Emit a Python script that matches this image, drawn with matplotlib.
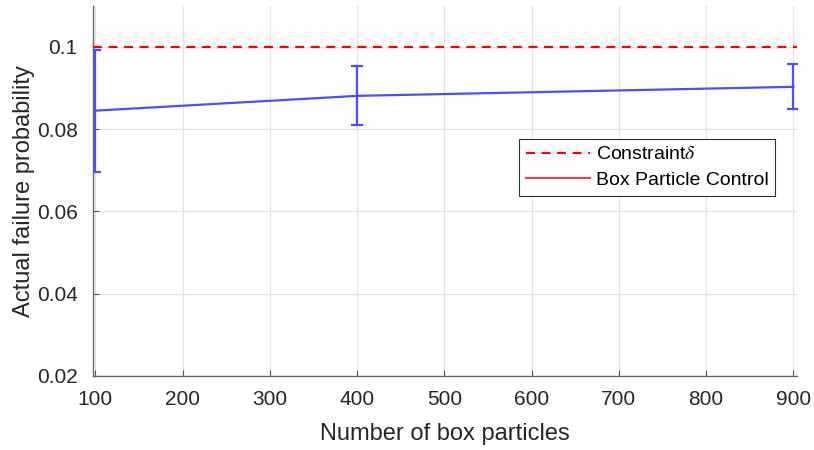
import numpy as np
from matplotlib import pyplot as plt
from matplotlib.lines import Line2D

# data
particles = [100, 400, 900]
mean_fail = [0.0845, 0.0881, 0.0903]
err_low = [0.0696, 0.0810, 0.0850]
err_high = [0.0992, 0.0953, 0.0958]
delta = 0.1

x_ticks = [100, 200, 300, 400, 500, 600, 700, 800, 900]
y_ticks = [0.02, 0.04, 0.06, 0.08, 0.1]
y_tick_labels = ['0.02', '0.04', '0.06', '0.08', '0.1']

plt.rcParams['font.family'] = ['Liberation Sans', 'DejaVu Sans']
plt.rcParams['mathtext.fontset'] = 'stix'

fig = plt.figure(figsize=(8.14, 4.5), dpi=100)
ax = fig.add_axes([0.114, 0.165, 0.865, 0.822])

blue = '#4d4dff'
mean_arr = np.array(mean_fail)
yerr = [mean_arr - np.array(err_low), np.array(err_high) - mean_arr]

ax.axhline(delta, color='#ff0000', linestyle=(0, (4, 3)), linewidth=1.6, zorder=3)
ax.errorbar(particles, mean_fail, yerr=yerr, color=blue, linewidth=1.6,
            elinewidth=1.6, capsize=4.6, capthick=1.6, zorder=4)

ax.set_xlim(97, 904)
ax.set_ylim(0.02, 0.11)
ax.set_xticks(x_ticks)
ax.set_yticks(y_ticks)
ax.set_yticklabels(y_tick_labels)
ax.tick_params(direction='in', length=4, labelsize=15, colors='#262626',
               color='#555555', width=0.8)
ax.tick_params(axis='x', pad=10)
ax.tick_params(axis='y', pad=11)
ax.grid(True, color='#e2e2e2', linewidth=0.9)
ax.set_axisbelow(True)
for side in ['top', 'right']:
    ax.spines[side].set_visible(False)
for side in ['left', 'bottom']:
    ax.spines[side].set_color('#666666')
    ax.spines[side].set_linewidth(1.0)

ax.set_xlabel('Number of box particles', fontsize=17, color='#262626', labelpad=10)
ax.set_ylabel('Actual failure probability', fontsize=17, color='#262626', labelpad=1)

handles = [Line2D([], [], color='#ff0000', linestyle=(0, (4, 3)), linewidth=1.6),
           Line2D([], [], color='#ff3333', linewidth=1.4)]
leg = ax.legend(handles, ['Constraint$\\delta$', 'Box Particle Control'],
                loc='upper left', bbox_to_anchor=(0.605, 0.640), fontsize=14,
                fancybox=False, framealpha=1, edgecolor='#333333',
                handlelength=3.3, borderpad=0.35, labelspacing=0.42,
                handletextpad=0.3, borderaxespad=0)
leg.get_frame().set_linewidth(0.8)

plt.savefig('out.png', dpi=100)
